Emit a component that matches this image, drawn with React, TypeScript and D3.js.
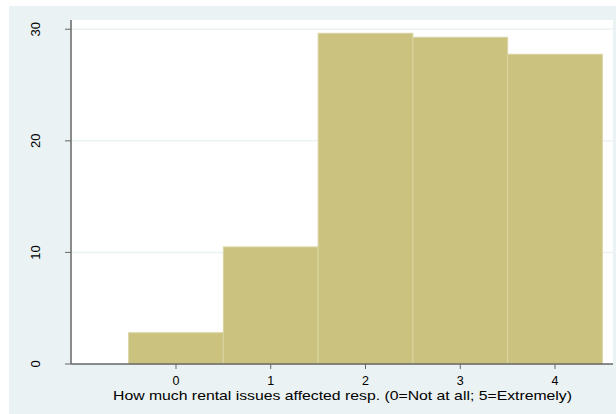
import React from "react";
import * as d3 from "d3";

const categories = [0, 1, 2, 3, 4];
const percents = [2.8, 10.49, 29.64, 29.28, 27.76];
const yTicks = [0, 10, 20, 30];
const gridTicks = [10, 20, 30];
const xTitle = "How much rental issues affected resp. (0=Not at all; 5=Extremely)";

export default function App() {
  const W = 616, H = 414;
  const left = 71, right = 613, top = 20, bottom = 364;
  const x = d3.scaleLinear().domain([-1.108, 4.612]).range([left, right]);
  const y = d3.scaleLinear().domain([0, 30.83]).range([bottom, top]);
  const font = "'Liberation Sans', Arial, Helvetica, sans-serif";
  return (
    <svg width={W} height={H} style={{ position: "absolute", left: 0, top: 0 }}>
      <rect x={9} y={6} width={W - 9} height={H - 6} fill="#EAF2F3" />
      <rect x={left} y={top} width={right - left} height={bottom - top} fill="#FFFFFF" />
      {gridTicks.map((t) => (
        <line key={t} x1={left} x2={right} y1={y(t)} y2={y(t)} stroke="#EAF2F3" strokeWidth={1.5} />
      ))}
      {categories.map((c, i) => (
        <rect
          key={c}
          x={x(c - 0.5)}
          y={y(percents[i])}
          width={x(c + 0.5) - x(c - 0.5)}
          height={y(0) - y(percents[i])}
          fill="#CAC27E"
          stroke="#D9D4A2"
          strokeWidth={1}
        />
      ))}
      <line x1={left} x2={left} y1={top} y2={bottom} stroke="#666" strokeWidth={1.5} />
      <line x1={left} x2={right} y1={bottom} y2={bottom} stroke="#666" strokeWidth={1.5} />
      {yTicks.map((t) => (
        <g key={t}>
          <line x1={left - 6} x2={left} y1={y(t)} y2={y(t)} stroke="#666" strokeWidth={1} />
          <text
            transform={`translate(${left - 31},${y(t)}) rotate(-90)`}
            textAnchor="middle"
            fontFamily={font}
            fontSize={13}
            fill="#000"
          >
            {t}
          </text>
        </g>
      ))}
      {categories.map((c) => (
        <g key={c}>
          <line x1={x(c)} x2={x(c)} y1={bottom} y2={bottom + 5} stroke="#666" strokeWidth={1} />
          <text x={x(c)} y={bottom + 21} textAnchor="middle" fontFamily={font} fontSize={12.5} fill="#000">
            {c}
          </text>
        </g>
      ))}
      <text
        x={113}
        y={400}
        textLength={459}
        lengthAdjust="spacingAndGlyphs"
        fontFamily={font}
        fontSize={13}
        fill="#000"
      >
        {xTitle}
      </text>
    </svg>
  );
}
